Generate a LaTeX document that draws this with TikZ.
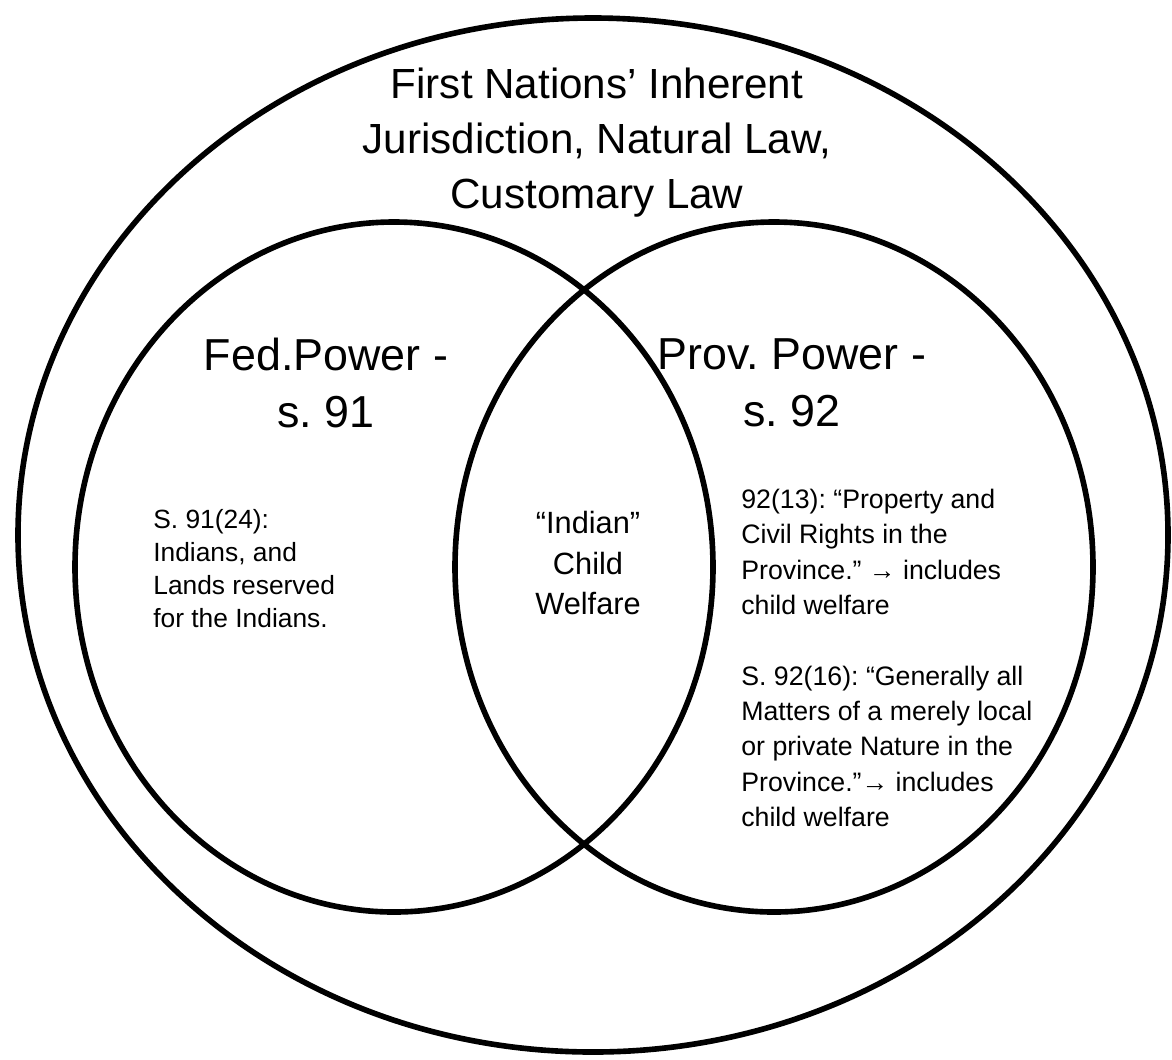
\documentclass[tikz,border=0pt]{standalone}
\usepackage{fontspec}
\setmainfont{Liberation Sans}
\frenchspacing
\usetikzlibrary{positioning}
\tikzset{venn/.style={draw=black,line width=3.2pt}}
\tikzset{bigtext/.style={align=center,font=\fontsize{24}{31.3}\selectfont}}
\tikzset{headtext/.style={align=center,font=\fontsize{25.5}{32.4}\selectfont}}
\tikzset{midtext/.style={align=center,font=\fontsize{17.5}{22.8}\selectfont}}
\tikzset{smalltext/.style={align=left,inner sep=0pt}}

\begin{document}
\begin{tikzpicture}[x=0.02cm,y=-0.02cm]
  \useasboundingbox (0,0) rectangle (1172,1059);
  % the three regions
  \draw [venn](593,535) ellipse [x radius=575,y radius=517];
  \draw [venn](394,567) ellipse [x radius=319,y radius=345];
  \draw [venn](774,567) ellipse [x radius=319,y radius=345];

  \node [bigtext] (title) at (597,143) {First Nations’ Inherent\\Jurisdiction, Natural Law,\\Customary Law};
  \node [headtext] (fedlabel) at (326,383) {Fed.Power -\\s. 91};
  \node [headtext] (provlabel) at (792,383) {Prov. Power -\\s. 92};
  \node [midtext] (overlap) at (588,563) {“Indian”\\Child\\Welfare};
  \node [smalltext,anchor=west,font=\fontsize{15}{18.8}\selectfont] (fedtext) at (153,569) {S. 91(24):\\Indians, and\\Lands reserved\\for the Indians.};
  \node [smalltext,anchor=west,font=\fontsize{15.2}{20.1}\selectfont] (provtext) at (741,658) {92(13): “Property and\\Civil Rights in the\\Province.” → includes\\child welfare\\[20.1pt]S. 92(16): “Generally all\\Matters of a merely local\\or private Nature in the\\Province.”→ includes\\child welfare};
\end{tikzpicture}
\end{document}
